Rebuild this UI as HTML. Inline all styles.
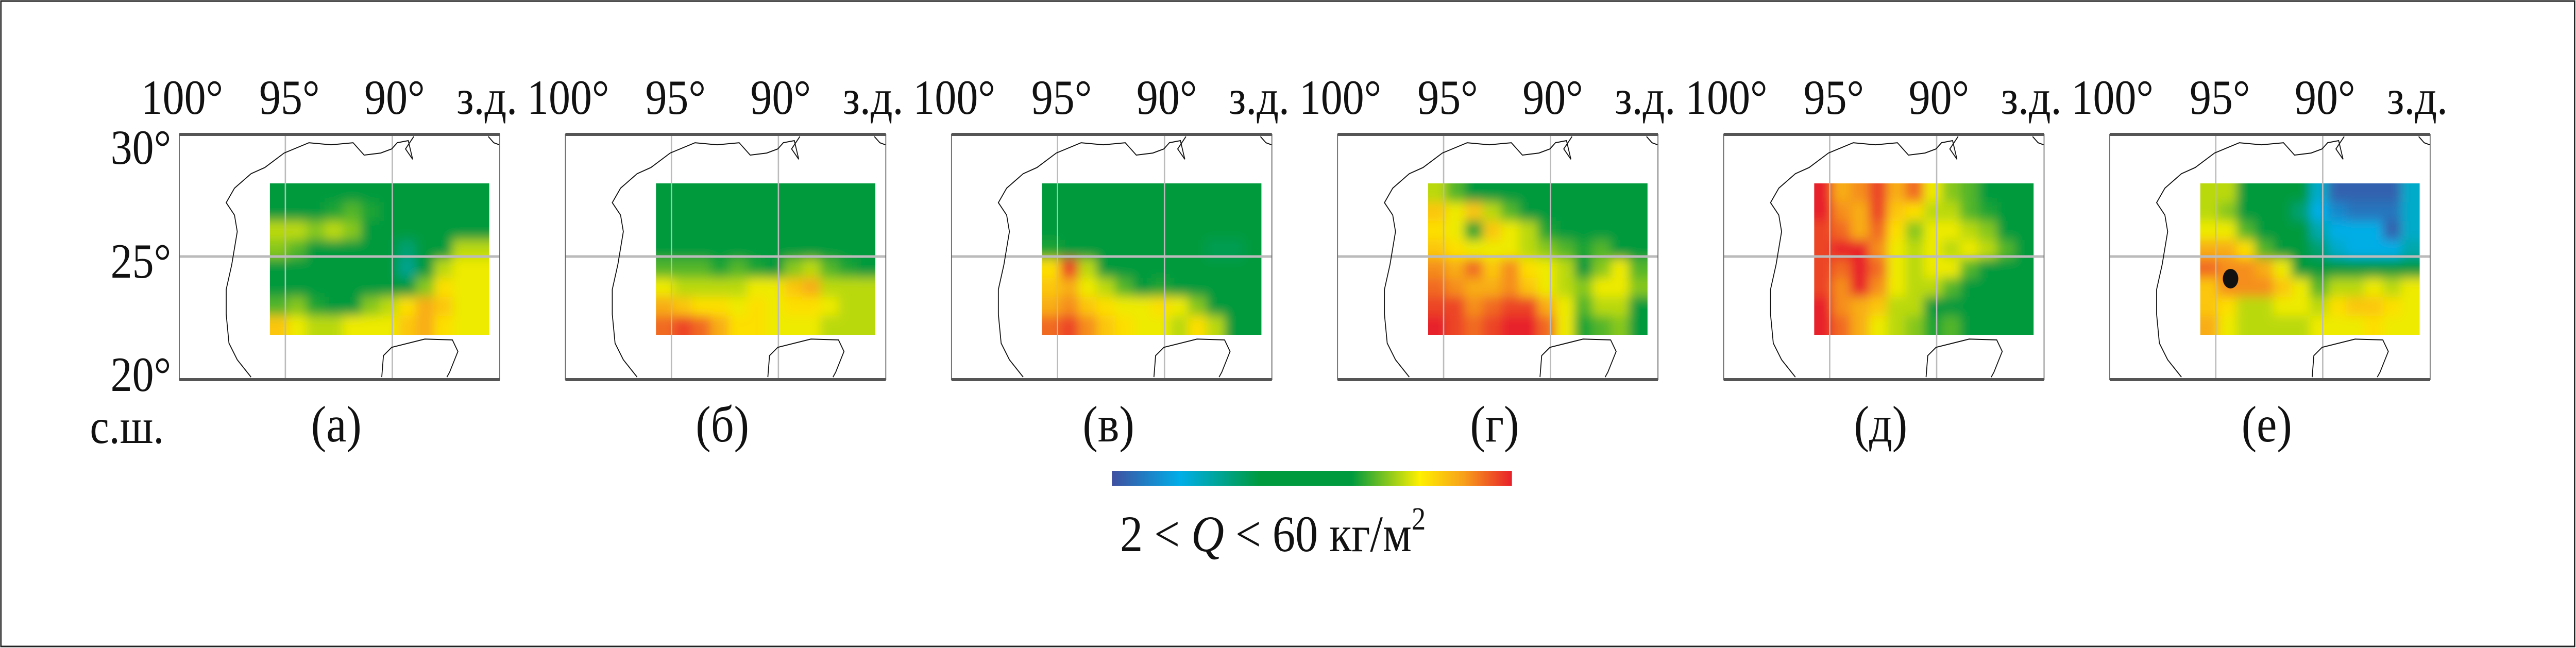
<!DOCTYPE html>
<html><head><meta charset="utf-8"><style>
html,body{margin:0;padding:0;background:#fff;width:100%;height:100%;overflow:hidden}
svg{display:block;width:100vw;height:100vh}
text{font-family:"Liberation Serif","DejaVu Serif",serif;fill:#111}
</style></head><body>
<svg id="fig" viewBox="0 0 5660 1258" preserveAspectRatio="none" xmlns="http://www.w3.org/2000/svg" font-family="Liberation Serif, serif">
<defs>
<linearGradient id="cbar" x1="0" x2="1" y1="0" y2="0">
<stop offset="0" stop-color="#3f4fa0"/><stop offset="0.17" stop-color="#00aee8"/><stop offset="0.37" stop-color="#009a3e"/><stop offset="0.6" stop-color="#009a3e"/><stop offset="0.77" stop-color="#fff000"/><stop offset="0.88" stop-color="#f7a01a"/><stop offset="1" stop-color="#e8202a"/>
</linearGradient>
<filter id="blur" x="-10%" y="-10%" width="120%" height="120%"><feGaussianBlur stdDeviation="11"/></filter>
</defs>
<rect x="2" y="2" width="5655" height="1253" fill="none" stroke="#222" stroke-width="3"/>
<g id="panels"></g>
<rect x="2443" y="914" width="879" height="29" fill="url(#cbar)"/>
<text x="2461" y="1070" font-size="100">2 &lt; <tspan font-style="italic">Q</tspan> &lt; 60 кг/м<tspan font-size="62" dy="-42">2</tspan></text>
<text x="376" y="318" font-size="95" text-anchor="end">30°</text>
<text x="376" y="539" font-size="95" text-anchor="end">25°</text>
<text x="376" y="759" font-size="95" text-anchor="end">20°</text>
<text x="279" y="860" font-size="95" text-anchor="middle">с.ш.</text>
</svg>
<script>
const panelLetters = ["(а)","(б)","(в)","(г)","(д)","(е)"];
const lonTicks = ["100°","95°","90°","з.д."];
const panelA = [
[30,30,28,30,30,30,30,30,30,30,30,30],
[32,32,34,38,40,38,32,30,30,30,28,30],
[44,44,42,44,42,36,30,30,30,30,30,30],
[42,40,34,30,30,30,30,20,30,34,44,44],
[36,34,30,30,30,30,30,18,32,44,46,46],
[32,32,30,30,30,30,30,30,42,48,46,46],
[40,42,38,36,36,42,44,48,52,50,46,46],
[50,46,44,44,46,46,46,50,52,48,46,46]];
const panelB = [
[30,30,30,30,30,30,30,30,30,30,30,30],
[30,30,30,30,30,30,30,26,30,26,30,30],
[30,30,30,30,30,30,30,30,30,30,30,30],
[34,32,30,30,30,30,30,30,30,30,30,30],
[40,40,40,38,40,38,36,42,44,40,38,36],
[46,44,44,44,44,46,46,50,52,44,44,44],
[52,50,48,48,46,48,46,48,48,46,44,44],
[56,58,56,52,48,48,46,46,46,44,44,44]];
const panelC = [
[34,32,30,30,30,30,30,30,30,30,30,30],
[36,34,32,30,30,30,30,30,30,30,30,30],
[36,36,30,30,30,30,30,30,30,30,24,24],
[38,34,30,30,30,30,30,30,28,22,22,30],
[48,58,44,30,30,30,30,30,30,30,30,30],
[50,52,46,44,40,36,38,34,30,30,30,30],
[52,54,50,48,46,46,48,46,42,36,30,30],
[56,58,54,50,48,46,46,44,48,44,30,30]];
const panelD = [
[44,40,36,34,36,36,32,30,30,30,30,30],
[50,46,50,44,40,36,36,30,30,30,30,30],
[48,46,38,50,46,44,38,36,32,30,36,32],
[50,48,46,46,46,44,42,40,38,40,36,34],
[54,52,56,50,54,48,46,44,34,42,46,40],
[56,54,52,52,54,50,46,44,42,46,46,42],
[58,58,54,56,58,58,52,46,40,44,44,36],
[60,58,56,58,60,60,56,46,38,40,42,36]];
const panelE = [
[60,52,54,58,52,56,46,42,40,36,34,30],
[60,54,52,58,50,48,44,44,40,38,36,30],
[58,56,52,56,48,42,46,46,44,42,36,30],
[58,60,60,54,46,44,46,44,46,44,40,34],
[58,56,60,56,46,44,46,46,40,34,30,30],
[58,54,60,54,46,44,44,40,30,30,30,30],
[60,54,52,50,44,44,36,36,30,30,30,30],
[60,56,52,46,44,42,38,40,30,30,30,30]];
const panelF = [
[44,44,32,30,30,24,14,4,4,4,4,14],
[44,42,30,34,30,20,12,8,6,6,6,14],
[46,46,40,32,30,28,16,12,12,12,4,14],
[52,52,48,40,32,30,20,14,12,12,12,16],
[56,54,54,52,46,36,30,30,30,32,34,30],
[50,54,54,54,50,46,40,44,44,46,44,46],
[50,48,44,44,46,46,44,48,50,50,48,46],
[52,46,44,44,44,44,46,46,46,48,46,46]];
const panelData = [panelA,panelB,panelC,panelD,panelE,panelF];
const qMin = 2, qMax = 60;

const stops=[[0,[63,79,160]],[0.17,[0,174,232]],[0.37,[0,154,62]],[0.6,[0,154,62]],[0.77,[255,240,0]],[0.88,[247,160,26]],[1,[232,32,42]]];
function color(v){
  let t=Math.max(0,Math.min(1,(v-qMin)/(qMax-qMin)));
  for(let i=1;i<stops.length;i++){
    if(t<=stops[i][0]){
      const a=stops[i-1],b=stops[i],f=(t-a[0])/(b[0]-a[0]||1);
      return 'rgb('+a[1].map((c,k)=>Math.round(c+(b[1][k]-c)*f)).join(',')+')';
    }
  }
  return 'rgb(232,32,42)';
}
const NS="http://www.w3.org/2000/svg";
function el(tag,attrs,parent){const e=document.createElementNS(NS,tag);for(const k in attrs)e.setAttribute(k,attrs[k]);if(parent)parent.appendChild(e);return e;}
function cp(pts){return pts.map(p=>[((p[0]-325)/0.825).toFixed(1),((p[1]-325)/1.246).toFixed(1)]).map(p=>p.join(',')).join(' ');}
const texas=cp([[455,912],[430,870],[415,830],[410,760],[410,700],[420,640],[430,560],[425,520],[410,490],[425,455],[455,420],[480,405],[515,370],[560,345],[600,350],[640,345],[660,375],[690,370],[710,360],[720,345],[740,340],[748,385],[735,360],[750,330]]);
const yuc=cp([[692,912],[695,860],[710,840],[770,820],[820,822],[830,850],[815,900],[810,912]]);
const fl=cp([[885,330],[895,345],[905,350]]);
const FW=704,FH=476,FY=261,DX=199,DW=482,DY=95,DH=294;
const root=document.getElementById('panels');
panelData.forEach((grid,pi)=>{
  const x0=394+pi*848.3;
  const g=el('g',{transform:'translate('+x0.toFixed(1)+','+FY+')'},root);
  
  
  const clipId='clip'+pi;
  const cl=el('clipPath',{id:clipId},g);
  el('rect',{x:DX,y:DY,width:DW,height:DH},cl);
  const hc=el('g',{'clip-path':'url(#'+clipId+')'},g);
  const hm=el('g',{filter:'url(#blur)'},hc);
  
  
  const rows=grid.length,cols=grid[0].length,cw=DW/cols,ch=DH/rows;
  for(let r=-2;r<rows+2;r++){
    for(let c=-2;c<cols+2;c++){
      const v=grid[Math.max(0,Math.min(rows-1,r))][Math.max(0,Math.min(cols-1,c))];
      const rc=el('rect',{x:(DX+c*cw-0.5).toFixed(1),y:(DY+r*ch-0.5).toFixed(1),width:(cw+1).toFixed(1),height:(ch+1).toFixed(1),fill:color(v)},hm);
      
      
    }
  }
  [233,468].forEach(x=>{const l=el('line',{x1:x,x2:x,y1:0,y2:FH,stroke:'#bbb','stroke-width':3},g);});
  const hl=el('line',{x1:0,x2:FW,y1:237,y2:237,stroke:'#bbb','stroke-width':5},g);
  
  
  [texas,yuc,fl].forEach(pts=>{const c=el('polyline',{points:pts,fill:'none',stroke:'#111','stroke-width':2},g);});
  const fr=el('rect',{x:0,y:0,width:FW,height:FH,fill:'none',stroke:'#666','stroke-width':2},g);
  
  
  el('line',{x1:0,x2:FW,y1:0,y2:0,stroke:'#555','stroke-width':6},g);
  el('line',{x1:0,x2:FW,y1:FH,y2:FH,stroke:'#555','stroke-width':6},g);
  const tx=[6,242,473,676];
  lonTicks.forEach((t,i)=>{const e=el('text',{x:tx[i],y:-40,'font-size':95,'text-anchor':'middle'},g);e.textContent=t;});
  const lt=el('text',{x:345,y:596,'font-size':100,'text-anchor':'middle'},g);
  lt.textContent=panelLetters[pi];
  
  
  if(pi===5){const d=el('ellipse',{cx:4901-x0,cy:541-FY,rx:17,ry:19,fill:'#111'},g);}
});
</script>
</body></html>
